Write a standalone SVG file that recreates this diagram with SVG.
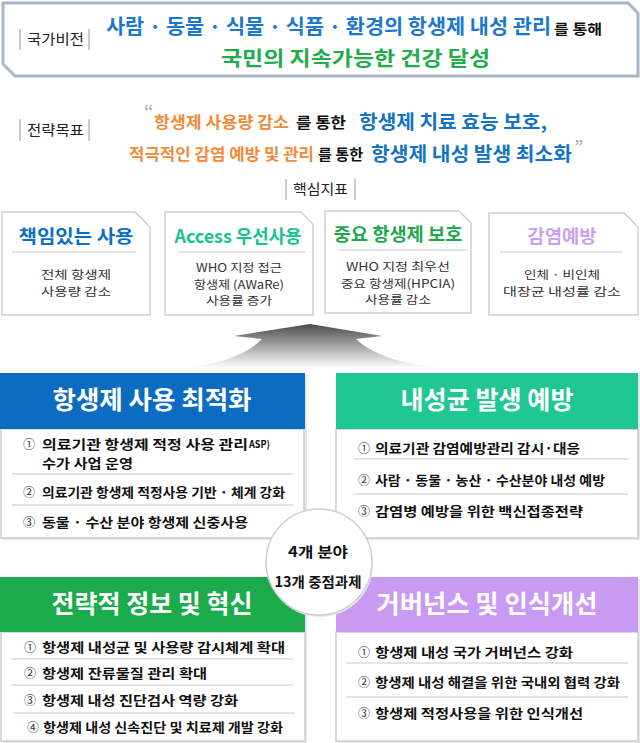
<svg xmlns="http://www.w3.org/2000/svg" width="640" height="743" viewBox="0 0 640 743">
<defs>
<linearGradient id="arrowGrad" x1="0" y1="0" x2="0" y2="1">
<stop offset="0" stop-color="#4a4a4a"/>
<stop offset="0.35" stop-color="#8a8a8a"/>
<stop offset="1" stop-color="#ffffff"/>
</linearGradient>
</defs>
<style>
.k{font-family:"Noto Sans CJK KR","Noto Sans",sans-serif}
.lbl{font-size:14px;fill:#222}
.bar{stroke:#9a9a9a;stroke-width:1}
.card{fill:#fff;stroke:#cfcfcf;stroke-width:1.5}
.ct{font-size:18px;font-weight:bold}
.cs{stroke:#c8c8c8;stroke-width:1}
.cb{font-size:11.5px;fill:#333;text-anchor:middle}
.qb{fill:#fff;stroke:#cdcdcd;stroke-width:1.5}
.qt{font-size:25px;font-weight:bold;fill:#fff;text-anchor:middle}
.it{font-size:13px;font-weight:bold;fill:#111}
.num{font-size:12px;fill:#333}
.sep{stroke:#c8c8c8;stroke-width:1}
.sh{fill:#e6e6e6}
</style>
<rect width="640" height="743" fill="#fff"/>

<g id="vision">
<path d="M3,3 H628 L638,13 V76 H15 L3,64 Z" fill="#fff" stroke="#a9b5c8" stroke-width="3"/>
<line class="bar" x1="20" y1="29" x2="20" y2="50"/>
<line class="bar" x1="89" y1="29" x2="89" y2="50"/>
<text class="k lbl" x="27" y="44" textLength="57" lengthAdjust="spacingAndGlyphs">국가비전</text>
<text class="k" x="106" y="34" font-size="20" font-weight="bold" fill="#1b77d0" textLength="445" lengthAdjust="spacingAndGlyphs">사람 · 동물 · 식물 · 식품 · 환경의 항생제 내성 관리</text>
<text class="k" x="554" y="34" font-size="14" font-weight="bold" fill="#111" textLength="48" lengthAdjust="spacingAndGlyphs">를 통해</text>
<text class="k" x="221" y="66" font-size="20" font-weight="bold" fill="#22ad4a" textLength="269" lengthAdjust="spacingAndGlyphs">국민의 지속가능한 건강 달성</text>
</g>

<g id="goal">
<line class="bar" x1="20" y1="119" x2="20" y2="141"/>
<line class="bar" x1="89" y1="119" x2="89" y2="141"/>
<text class="k lbl" x="27" y="135" textLength="57" lengthAdjust="spacingAndGlyphs">전략목표</text>
<text class="k" x="144" y="120" font-size="20" fill="#aaa">“</text>
<text class="k" x="154" y="128" font-size="16" font-weight="bold" fill="#f28a38" textLength="135" lengthAdjust="spacingAndGlyphs">항생제 사용량 감소</text>
<text class="k" x="296" y="128" font-size="15" font-weight="bold" fill="#111" textLength="50" lengthAdjust="spacingAndGlyphs">를 통한</text>
<text class="k" x="359" y="129" font-size="19" font-weight="bold" fill="#1573c6" textLength="188" lengthAdjust="spacingAndGlyphs">항생제 치료 효능 보호,</text>
<text class="k" x="129" y="160" font-size="16" font-weight="bold" fill="#f28a38" textLength="185" lengthAdjust="spacingAndGlyphs">적극적인 감염 예방 및 관리</text>
<text class="k" x="318" y="160" font-size="15" font-weight="bold" fill="#111" textLength="45" lengthAdjust="spacingAndGlyphs">를 통한</text>
<text class="k" x="371" y="161" font-size="19" font-weight="bold" fill="#1573c6" textLength="201" lengthAdjust="spacingAndGlyphs">항생제 내성 발생 최소화</text>
<text class="k" x="574" y="155" font-size="20" fill="#aaa">”</text>
</g>

<g id="kpi-label">
<line class="bar" x1="286" y1="179" x2="286" y2="200"/>
<line class="bar" x1="355" y1="179" x2="355" y2="200"/>
<text class="k lbl" x="293" y="194" textLength="55" lengthAdjust="spacingAndGlyphs">핵심지표</text>
</g>

<g id="kpi1">
<path class="card" d="M2,212 H135 L150,227 V315 H2 Z"/>
<text class="k ct" x="76" y="243" fill="#0d6fc4" text-anchor="middle" textLength="115" lengthAdjust="spacingAndGlyphs">책임있는 사용</text>
<line class="cs" x1="12" y1="252" x2="136" y2="252"/>
<text class="k cb" x="76" y="279" textLength="70" lengthAdjust="spacingAndGlyphs">전체 항생제</text>
<text class="k cb" x="76" y="296" textLength="70" lengthAdjust="spacingAndGlyphs">사용량 감소</text>
</g>
<g id="kpi2">
<path class="card" d="M165,212 H301 L313,224 V315 H165 Z"/>
<text class="k ct" x="238" y="243" fill="#15c48a" text-anchor="middle" textLength="127" lengthAdjust="spacingAndGlyphs">Access 우선사용</text>
<line class="cs" x1="179" y1="252" x2="305" y2="252"/>
<text class="k cb" x="239" y="272" textLength="86" lengthAdjust="spacingAndGlyphs">WHO 지정 접근</text>
<text class="k cb" x="239" y="288.5" textLength="90" lengthAdjust="spacingAndGlyphs">항생제 (AWaRe)</text>
<text class="k cb" x="239" y="305" textLength="66" lengthAdjust="spacingAndGlyphs">사용률 증가</text>
</g>
<g id="kpi3">
<path class="card" d="M325,211 H459 L471,223 V313 H325 Z"/>
<text class="k ct" x="398" y="241" fill="#1fa84c" text-anchor="middle" textLength="129" lengthAdjust="spacingAndGlyphs">중요 항생제 보호</text>
<line class="cs" x1="337" y1="250" x2="467" y2="250"/>
<text class="k cb" x="398" y="271" textLength="104" lengthAdjust="spacingAndGlyphs">WHO 지정 최우선</text>
<text class="k cb" x="398" y="287.5" textLength="114" lengthAdjust="spacingAndGlyphs">중요 항생제(HPCIA)</text>
<text class="k cb" x="398" y="304" textLength="66" lengthAdjust="spacingAndGlyphs">사용률 감소</text>
</g>
<g id="kpi4">
<path class="card" d="M489,213 H624 L638,227 V315 H489 Z"/>
<text class="k ct" x="562" y="243" fill="#c99ff2" text-anchor="middle" textLength="69" lengthAdjust="spacingAndGlyphs">감염예방</text>
<line class="cs" x1="500" y1="252" x2="623" y2="252"/>
<text class="k cb" x="562" y="279" textLength="76" lengthAdjust="spacingAndGlyphs">인체 · 비인체</text>
<text class="k cb" x="562" y="296" textLength="118" lengthAdjust="spacingAndGlyphs">대장균 내성률 감소</text>
</g>

<g id="connectors">
<path d="M310,324 L234,336 L262,339 C248,354 220,364 187,368 L443,368 C400,364 372,354 356,339 L382,336 Z" fill="url(#arrowGrad)"/>
</g>

<g id="area1">
<rect class="sh" x="3" y="375" width="304" height="165"/>
<rect class="qb" x="1" y="429" width="303" height="109"/>
<rect x="0" y="373" width="305" height="56" fill="#0b6cc1"/>
<text class="k qt" x="152" y="409" textLength="199" lengthAdjust="spacingAndGlyphs">항생제 사용 최적화</text>
<text class="k num" x="23" y="449">①</text>
<text class="k it" x="42" y="449" textLength="206" lengthAdjust="spacingAndGlyphs">의료기관 항생제 적정 사용 관리</text>
<text class="k" x="249" y="448" font-size="10" font-weight="bold" fill="#111" textLength="21" lengthAdjust="spacingAndGlyphs">ASP)</text>
<text class="k it" x="42" y="468" textLength="91" lengthAdjust="spacingAndGlyphs">수가 사업 운영</text>
<line class="sep" x1="12" y1="474" x2="293" y2="474"/>
<text class="k num" x="23" y="497">②</text>
<text class="k it" x="42" y="497" textLength="243" lengthAdjust="spacingAndGlyphs">의료기관 항생제 적정사용 기반 · 체계 강화</text>
<line class="sep" x1="12" y1="505" x2="293" y2="505"/>
<text class="k num" x="23" y="527">③</text>
<text class="k it" x="42" y="527" textLength="206" lengthAdjust="spacingAndGlyphs">동물 · 수산 분야 항생제 신중사용</text>
</g>

<g id="area2">
<rect class="sh" x="338" y="375" width="302" height="165"/>
<rect class="qb" x="336" y="429" width="302" height="109"/>
<rect x="336" y="373" width="302" height="56" fill="#1fc792"/>
<text class="k qt" x="487" y="409" textLength="173" lengthAdjust="spacingAndGlyphs">내성균 발생 예방</text>
<text class="k num" x="358" y="453">①</text>
<text class="k it" x="375" y="453" textLength="205" lengthAdjust="spacingAndGlyphs">의료기관 감염예방관리 감시·대응</text>
<line class="sep" x1="353" y1="459" x2="628" y2="459"/>
<text class="k num" x="358" y="485">②</text>
<text class="k it" x="375" y="485" textLength="230" lengthAdjust="spacingAndGlyphs">사람 · 동물 · 농산 · 수산분야 내성 예방</text>
<line class="sep" x1="353" y1="494" x2="628" y2="494"/>
<text class="k num" x="358" y="516">③</text>
<text class="k it" x="375" y="516" textLength="208" lengthAdjust="spacingAndGlyphs">감염병 예방을 위한 백신접종전략</text>
</g>

<g id="area3">
<rect class="sh" x="3" y="579" width="304" height="164"/>
<rect class="qb" x="1" y="632" width="304" height="109"/>
<rect x="0" y="577" width="305" height="55" fill="#1bab4b"/>
<text class="k qt" x="152" y="613" textLength="201" lengthAdjust="spacingAndGlyphs">전략적 정보 및 혁신</text>
<text class="k num" x="24" y="652">①</text>
<text class="k it" x="42" y="652" textLength="243" lengthAdjust="spacingAndGlyphs">항생제 내성균 및 사용량 감시체계 확대</text>
<line class="sep" x1="12" y1="659" x2="293" y2="659"/>
<text class="k num" x="24" y="678">②</text>
<text class="k it" x="42" y="678" textLength="165" lengthAdjust="spacingAndGlyphs">항생제 잔류물질 관리 확대</text>
<line class="sep" x1="12" y1="685" x2="293" y2="685"/>
<text class="k num" x="24" y="705">③</text>
<text class="k it" x="42" y="705" textLength="196" lengthAdjust="spacingAndGlyphs">항생제 내성 진단검사 역량 강화</text>
<line class="sep" x1="13" y1="713" x2="295" y2="713"/>
<text class="k num" x="27" y="732">④</text>
<text class="k it" x="43" y="732" textLength="240" lengthAdjust="spacingAndGlyphs">항생제 내성 신속진단 및 치료제 개발 강화</text>
</g>

<g id="area4">
<rect class="sh" x="338" y="579" width="302" height="164"/>
<rect class="qb" x="336" y="632" width="302" height="109"/>
<rect x="336" y="577" width="302" height="55" fill="#c99af2"/>
<text class="k qt" x="487" y="613" textLength="221" lengthAdjust="spacingAndGlyphs">거버넌스 및 인식개선</text>
<text class="k num" x="358" y="657">①</text>
<text class="k it" x="375" y="657" textLength="198" lengthAdjust="spacingAndGlyphs">항생제 내성 국가 거버넌스 강화</text>
<line class="sep" x1="346" y1="663" x2="628" y2="663"/>
<text class="k num" x="358" y="687">②</text>
<text class="k it" x="375" y="687" textLength="245" lengthAdjust="spacingAndGlyphs">항생제 내성 해결을 위한 국내외 협력 강화</text>
<line class="sep" x1="346" y1="697" x2="628" y2="697"/>
<text class="k num" x="358" y="718">③</text>
<text class="k it" x="375" y="718" textLength="208" lengthAdjust="spacingAndGlyphs">항생제 적정사용을 위한 인식개선</text>
</g>

<g id="center">
<circle cx="320" cy="564" r="53" fill="#e8e8e8"/>
<circle cx="319" cy="562" r="53" fill="#fff" stroke="#cfcfcf" stroke-width="1.5"/>
<text class="k" x="318" y="557" font-size="14" font-weight="bold" fill="#111" text-anchor="middle" textLength="60" lengthAdjust="spacingAndGlyphs">4개 분야</text>
<text class="k" x="318" y="587" font-size="14" font-weight="bold" fill="#111" text-anchor="middle" textLength="87" lengthAdjust="spacingAndGlyphs">13개 중점과제</text>
</g>
</svg>
